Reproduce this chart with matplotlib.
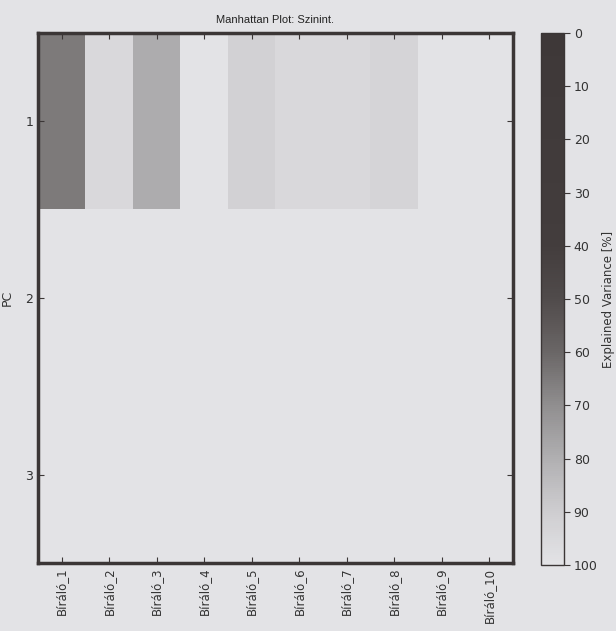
import numpy as np
import matplotlib
matplotlib.use("Agg")
import matplotlib.pyplot as plt
from matplotlib.colors import LinearSegmentedColormap

# Assessors and principal components
assessors = ["Bíráló_1", "Bíráló_2", "Bíráló_3", "Bíráló_4", "Bíráló_5",
             "Bíráló_6", "Bíráló_7", "Bíráló_8", "Bíráló_9", "Bíráló_10"]
pcs = [1, 2, 3]

# Cumulative explained variance [%] per assessor for PC1..PC3
pc1_values = [65, 95, 79, 100, 92, 95, 95, 93, 100, 100]
pc2_values = [100, 100, 100, 100, 100, 100, 100, 100, 100, 100]
pc3_values = [100, 100, 100, 100, 100, 100, 100, 100, 100, 100]

data = np.array([pc1_values, pc2_values, pc3_values], dtype=float)

bg = "#e3e3e6"
ink = "#3b3636"

# Grey ramp: dark for low explained variance, light for full
cmap = LinearSegmentedColormap.from_list(
    "print_grey",
    [(0.00, "#3e3838"), (0.40, "#433d3d"), (0.50, "#504b4b"),
     (0.60, "#6a6666"), (0.70, "#908e8f"), (0.80, "#b0afb1"),
     (0.90, "#cecdd0"), (1.00, bg)])

plt.rcParams["font.family"] = "DejaVu Sans"
fig = plt.figure(figsize=(6.16, 6.31), dpi=100, facecolor=bg)
ax = fig.add_axes([38 / 616, 1 - 563 / 631, 475 / 616, 530 / 631])
cax = fig.add_axes([541 / 616, 1 - 565 / 631, 23 / 616, 532 / 631])
ax.set_facecolor(bg)

im = ax.imshow(data, cmap=cmap, vmin=0, vmax=100, aspect="auto",
               interpolation="nearest",
               extent=(-0.5, len(assessors) - 0.5, len(pcs) + 0.5, 0.5))

ax.set_xticks(range(len(assessors)))
ax.set_xticklabels(assessors, rotation=90, fontsize=8.5, color="#333")
ax.set_yticks(pcs)
ax.set_yticklabels([str(p) for p in pcs], fontsize=9, color="#333")
ax.set_ylabel("PC", fontsize=9, color="#333", labelpad=8)
ax.tick_params(direction="in", top=True, right=True, length=4,
               color=ink, width=0.8)
for s in ax.spines.values():
    s.set_linewidth(2.5)
    s.set_color(ink)

ax.set_title("Manhattan Plot: Szinint.", fontsize=8, family="Liberation Sans",
             color="#222", pad=7)

cb = fig.colorbar(im, cax=cax)
cb.set_ticks(np.arange(0, 101, 10))
cax.invert_yaxis()
cb.outline.set_edgecolor(ink)
cb.outline.set_linewidth(1.0)
cax.tick_params(labelsize=9, length=4, color=ink, labelcolor="#333", pad=3)
cb.set_label("Explained Variance [%]", fontsize=8.5, color="#333", labelpad=3)

fig.savefig("out.png", dpi=100, facecolor=bg)
